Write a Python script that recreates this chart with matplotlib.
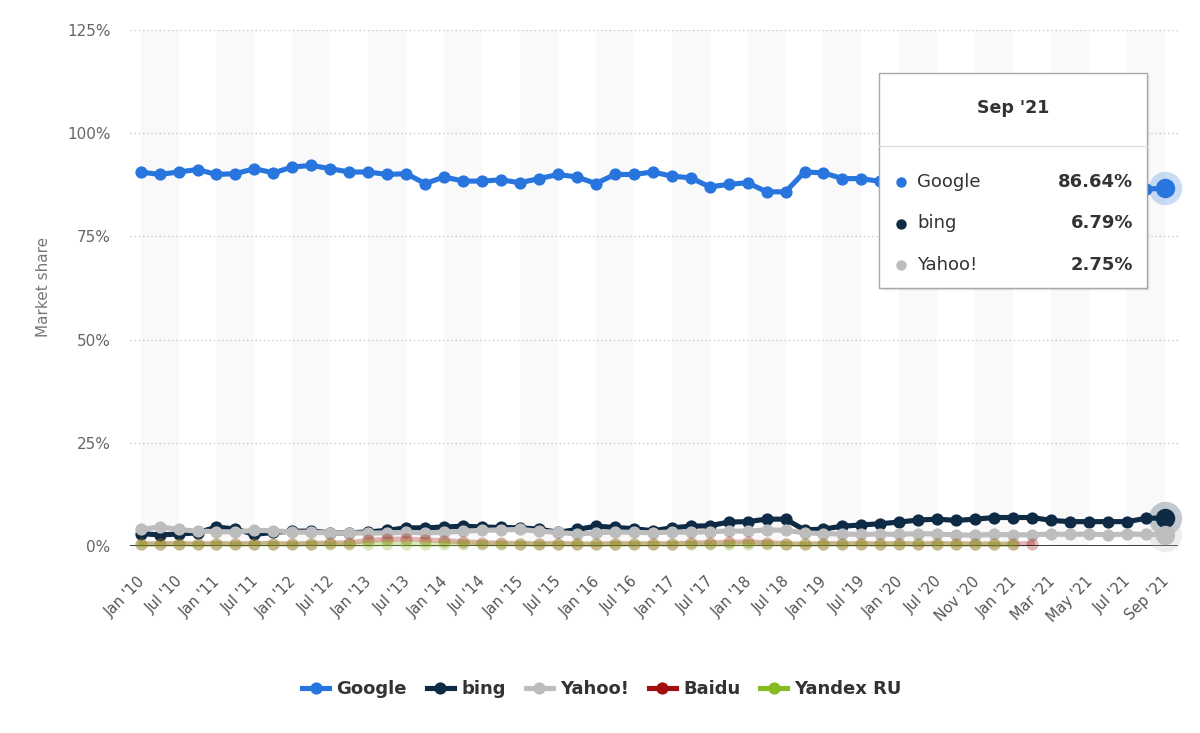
import matplotlib.pyplot as plt
from matplotlib.lines import Line2D
from matplotlib.patches import Rectangle
from matplotlib.transforms import ScaledTranslation

W, H = 1200, 733

# categories: quarterly Jan '10 .. Oct '20, then monthly Nov '20 .. Sep '21
quarter_months = ["Jan", "Apr", "Jul", "Oct"]
monthly = ["Nov '20", "Dec '20", "Jan '21", "Feb '21", "Mar '21", "Apr '21",
           "May '21", "Jun '21", "Jul '21", "Aug '21", "Sep '21"]
categories = ["%s '%02d" % (m, y) for y in range(10, 21) for m in quarter_months] + monthly

google = [90.6, 90.0, 90.6, 91.2, 90.0, 90.2, 91.4, 90.4, 91.8, 92.2,
          91.4, 90.6, 90.6, 90.0, 90.2, 87.8, 89.4, 88.4, 88.4, 88.7,
          88.0, 89.0, 90.0, 89.4, 87.8, 90.0, 90.0, 90.6, 89.6, 89.2,
          87.0, 87.6, 88.0, 85.8, 85.8, 90.6, 90.4, 89.0, 89.0, 88.3,
          88.0, 87.8, 87.5, 87.6, 88.1, 87.9, 87.6, 87.7, 87.4, 87.6,
          87.7, 87.5, 87.1, 86.5, 86.64]
bing = [3.0, 2.7, 2.9, 3.2, 4.6, 4.1, 2.8, 3.3, 3.6, 3.6,
        3.2, 3.2, 3.4, 3.8, 4.4, 4.4, 4.6, 4.8, 4.6, 4.5,
        4.4, 4.1, 3.3, 4.0, 4.8, 4.5, 4.2, 3.7, 4.4, 4.8,
        4.9, 5.8, 5.9, 6.5, 6.5, 3.9, 4.1, 4.8, 5.1, 5.4,
        5.8, 6.3, 6.5, 6.2, 6.5, 6.9, 6.9, 6.9, 6.2, 5.9,
        5.9, 5.9, 5.9, 6.7, 6.79]
yahoo = [4.0, 4.6, 4.0, 3.6, 3.5, 3.4, 3.8, 3.7, 3.4, 3.3,
         3.2, 3.2, 3.1, 3.2, 3.3, 3.2, 3.3, 3.6, 3.8, 3.9,
         4.0, 3.6, 3.3, 2.9, 3.2, 3.4, 3.3, 3.2, 3.4, 3.3,
         3.5, 3.6, 3.6, 3.9, 3.8, 3.2, 3.0, 2.9, 2.8, 2.9,
         2.8, 3.0, 2.9, 2.7, 2.6, 2.8, 2.7, 2.7, 2.9, 2.8,
         2.9, 2.7, 2.9, 2.8, 2.75]
baidu = [0.5, 0.5, 0.6, 0.5, 0.6, 0.5, 0.6, 0.6, 0.5, 0.6,
         0.7, 0.8, 1.4, 1.6, 1.7, 1.5, 1.3, 1.0, 0.8, 0.7,
         0.6, 0.5, 0.6, 0.5, 0.4, 0.6, 0.5, 0.6, 0.5, 0.7,
         0.8, 0.9, 1.0, 0.8, 0.6, 0.4, 0.6, 0.5, 0.6, 0.5,
         0.6, 0.4, 0.6, 0.5, 0.5, 0.4, 0.5, 0.6]
yandex = [0.4, 0.4, 0.5, 0.4, 0.5, 0.4, 0.5, 0.5, 0.4, 0.5,
          0.5, 0.4, 0.5, 0.6, 0.5, 0.4, 0.5, 0.6, 0.5, 0.4,
          0.5, 0.5, 0.4, 0.5, 0.5, 0.4, 0.5, 0.4, 0.5, 0.5,
          0.4, 0.5, 0.6, 0.5, 0.4, 0.5, 0.5, 0.4, 0.5, 0.4,
          0.5, 0.6, 0.5, 0.4, 0.5, 0.5, 0.4]

names = ["Google", "bing", "Yahoo!", "Baidu", "Yandex RU"]
colors = ["#2876dd", "#0e2a45", "#bdbdbd", "#a30f0f", "#86bb24"]
series = [google, bing, yahoo, baidu, yandex]
faded = [False, False, False, True, True]

yticks = [0, 25, 50, 75, 100, 125]


def fpos(x, y):
    # pixel position -> figure fraction
    return x / W, (H - y) / H


fig = plt.figure(figsize=(W / 100, H / 100), dpi=100)
ax = fig.add_axes([130 / W, (H - 546) / H, (1178 - 130) / W, (546 - 30) / H])
ax.set_xlim(-0.56, 54.69)
ax.set_ylim(0, 125)

# alternating column bands
for s in range(0, len(categories), 4):
    ax.axvspan(s, s + 2, color="#f9f9f9", lw=0, zorder=0)

for v in yticks[1:]:
    ax.axhline(v, color="#c8c8c8", lw=1, ls=(0, (1, 2)), zorder=1)
ax.axhline(0, color="#1a1a1a", lw=1.2, zorder=9)

for i, (vals, c, fd) in enumerate(zip(series, colors, faded)):
    xs = list(range(len(vals)))
    ax.plot(xs, vals, color=c, lw=3.7, marker="o", ms=8.8, mec="none",
            alpha=0.3 if fd else 1.0, clip_on=False, zorder=5 + i)

# hover state on the last category
for vals, c in zip(series[:3], colors[:3]):
    last = len(vals) - 1
    ax.plot(last, vals[-1], "o", ms=24, color=c, alpha=0.25, mec="none",
            clip_on=False, zorder=12)
    ax.plot(last, vals[-1], "o", ms=14, color=c, mec="none",
            clip_on=False, zorder=13)

for sp in ax.spines.values():
    sp.set_visible(False)

ax.set_yticks(yticks)
ax.set_yticklabels(["%d%%" % v for v in yticks])
ax.tick_params(axis="y", length=0, pad=14, labelcolor="#666666", labelsize=11)

ax.set_xticks(range(0, len(categories), 2))
ax.set_xticklabels(categories[::2], rotation=45, ha="right")
ax.tick_params(axis="x", length=0, pad=18, labelcolor="#555555", labelsize=10.5)
shift = ScaledTranslation(5 / 72, -2 / 72, fig.dpi_scale_trans)
for lab in ax.get_xticklabels():
    lab.set_transform(lab.get_transform() + shift)

fig.text(*fpos(44, 287), "Market share", rotation=90, ha="center", va="center",
         fontsize=11, color="#777777")

# legend
handles = [Line2D([0], [0], color=c, lw=3.7, marker="o", ms=8.8, mec="none")
           for c in colors]
fig.legend(handles, names, loc="center", bbox_to_anchor=fpos(602, 689), ncol=5,
           frameon=False, prop=dict(weight="bold", size=13), handlelength=1.5,
           handletextpad=0.4, columnspacing=1.1, labelcolor="#333333")

# tooltip
bx0, by0, bx1, by1 = 879, 73, 1147, 288
for k, a in [(3, 0.03), (2, 0.05), (1, 0.08)]:
    fig.add_artist(Rectangle(fpos(bx0 + k, by1 + k), (bx1 - bx0) / W, (by1 - by0) / H,
                             transform=fig.transFigure, facecolor="black",
                             edgecolor="none", alpha=a, zorder=20))
fig.add_artist(Rectangle(fpos(bx0, by1), (bx1 - bx0) / W, (by1 - by0) / H,
                         transform=fig.transFigure, facecolor="white",
                         edgecolor="#a8a8a8", lw=1, zorder=21))
fig.add_artist(Line2D([bx0 / W, bx1 / W], [(H - 146) / H] * 2, color="#dddddd",
                      lw=1, transform=fig.transFigure, zorder=22))
fig.text(*fpos(1013, 108), categories[-1], ha="center", va="center", fontsize=12.5,
         weight="bold", color="#333333", zorder=22)
for row, (nm, vals, c) in enumerate(zip(names[:3], series[:3], colors[:3])):
    ry = 182 + row * 41.5
    fig.add_artist(Line2D([901 / W], [(H - ry) / H], marker="o", ms=7.5, color=c,
                          mec="none", transform=fig.transFigure, zorder=22))
    fig.text(*fpos(917, ry), nm, ha="left", va="center", fontsize=13,
             color="#333333", zorder=22)
    fig.text(*fpos(1133, ry), "%.2f%%" % vals[-1], ha="right", va="center",
             fontsize=13, weight="bold", color="#333333", zorder=22)

fig.savefig("out.png", dpi=100)
